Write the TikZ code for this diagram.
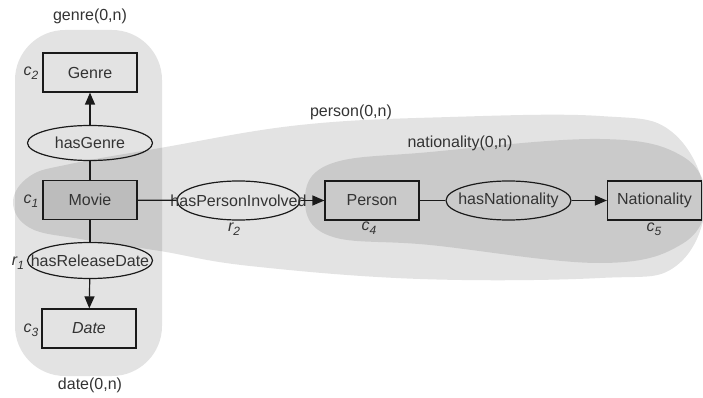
\documentclass[tikz,border=0pt]{standalone}
\usepackage{fontspec}
\setmainfont{Liberation Sans}
\usetikzlibrary{shapes.geometric,arrows.meta}
\definecolor{txt}{HTML}{333333}
\definecolor{ln}{HTML}{1A1A1A}
\tikzset{
  blob/.style={fill=black,fill opacity=0.11,draw=none},
  cbox/.style={draw=ln,line width=1.2pt,rectangle,minimum width=94pt,minimum height=39pt,inner sep=0pt,text=txt,font=\fontsize{16}{19}\selectfont},
  rel/.style={draw=ln,line width=1.2pt,ellipse,minimum width=125pt,minimum height=35pt,inner sep=0pt,text=txt,font=\fontsize{16}{19}\selectfont},
  lab/.style={text=txt,font=\fontsize{16}{19}\selectfont,inner sep=0pt},
  idx/.style={text=txt,font=\fontsize{16}{19}\selectfont\itshape,inner sep=0pt},
  conn/.style={draw=ln,line width=1.2pt},
  arr/.style={conn,-{Triangle[length=12pt,width=10pt]}}
}
\newcommand{\sub}[2]{#1\raisebox{-4pt}{\fontsize{12}{14}\selectfont #2}}
\newcommand{\zw}[1]{\makebox[0pt]{#1}}
\begin{document}
\begin{tikzpicture}[x=1pt,y=-1pt]
\useasboundingbox (0,0) rectangle (703,398);
% blobs
\fill[blob,rounded corners=50pt] (15,30) rectangle (162,376);
\fill[blob] plot[smooth cycle,tension=0.65] coordinates {(13,202) (30,176) (70,164) (160,148) (300,125) (450,117) (600,116) (672,132) (705,200) (676,266) (600,278) (420,279) (250,266) (160,251) (80,239) (30,228)};
\fill[blob] plot[smooth cycle,tension=0.65] coordinates {(305,200) (330,164) (430,152) (600,139) (682,156) (706,200) (682,244) (600,263) (430,245) (330,236)};
% nodes
\node[cbox] (genre) at (90,72.5) {Genre};
\node[rel] (hasgenre) at (90,143) {\zw{hasGenre}};
\node[cbox,fill=black,fill opacity=0.07,text opacity=1] (movie) at (90,200) {Movie};
\node[rel,minimum height=36pt] (hasdate) at (90,260.5) {\zw{hasReleaseDate}};
\node[cbox] (date) at (89,328.5) {\itshape Date};
\node[rel,minimum width=123pt,minimum height=39pt] (hasperson) at (238.5,200.5) {\zw{hasPersonInvolved}};
\node[cbox] (person) at (372,200.5) {Person};
\node[rel,minimum height=39pt] (hasnat) at (508.5,200.5) {\zw{hasNationality}};
\node[cbox] (nat) at (654.5,200.5) {Nationality};
% connectors
\draw[conn] (movie) -- (hasgenre);
\draw[arr] (hasgenre) -- (genre);
\draw[conn] (movie) -- (hasdate);
\draw[arr] (hasdate) -- (date);
\draw[conn] (movie) -- (hasperson);
\draw[arr] (hasperson) -- (person);
\draw[conn] (person) -- (hasnat);
\draw[arr] (hasnat) -- (nat);
% labels
\node[lab] (lgenre) at (90,16) {genre(0,n)};
\node[lab] (ldate) at (90,385) {date(0,n)};
\node[lab] (lperson) at (351,112) {person(0,n)};
\node[lab] (lnat) at (460,143) {nationality(0,n)};
\node[idx] (c2) at (31,73) {\sub{c}{2}};
\node[idx] (c1) at (31,201) {\sub{c}{1}};
\node[idx] (r1) at (18,263) {\sub{r}{1}};
\node[idx] (c3) at (31,330) {\sub{c}{3}};
\node[idx] (r2) at (234,229) {\sub{r}{2}};
\node[idx] (c4) at (369,228) {\sub{c}{4}};
\node[idx] (c5) at (654,229) {\sub{c}{5}};
\end{tikzpicture}
\end{document}
